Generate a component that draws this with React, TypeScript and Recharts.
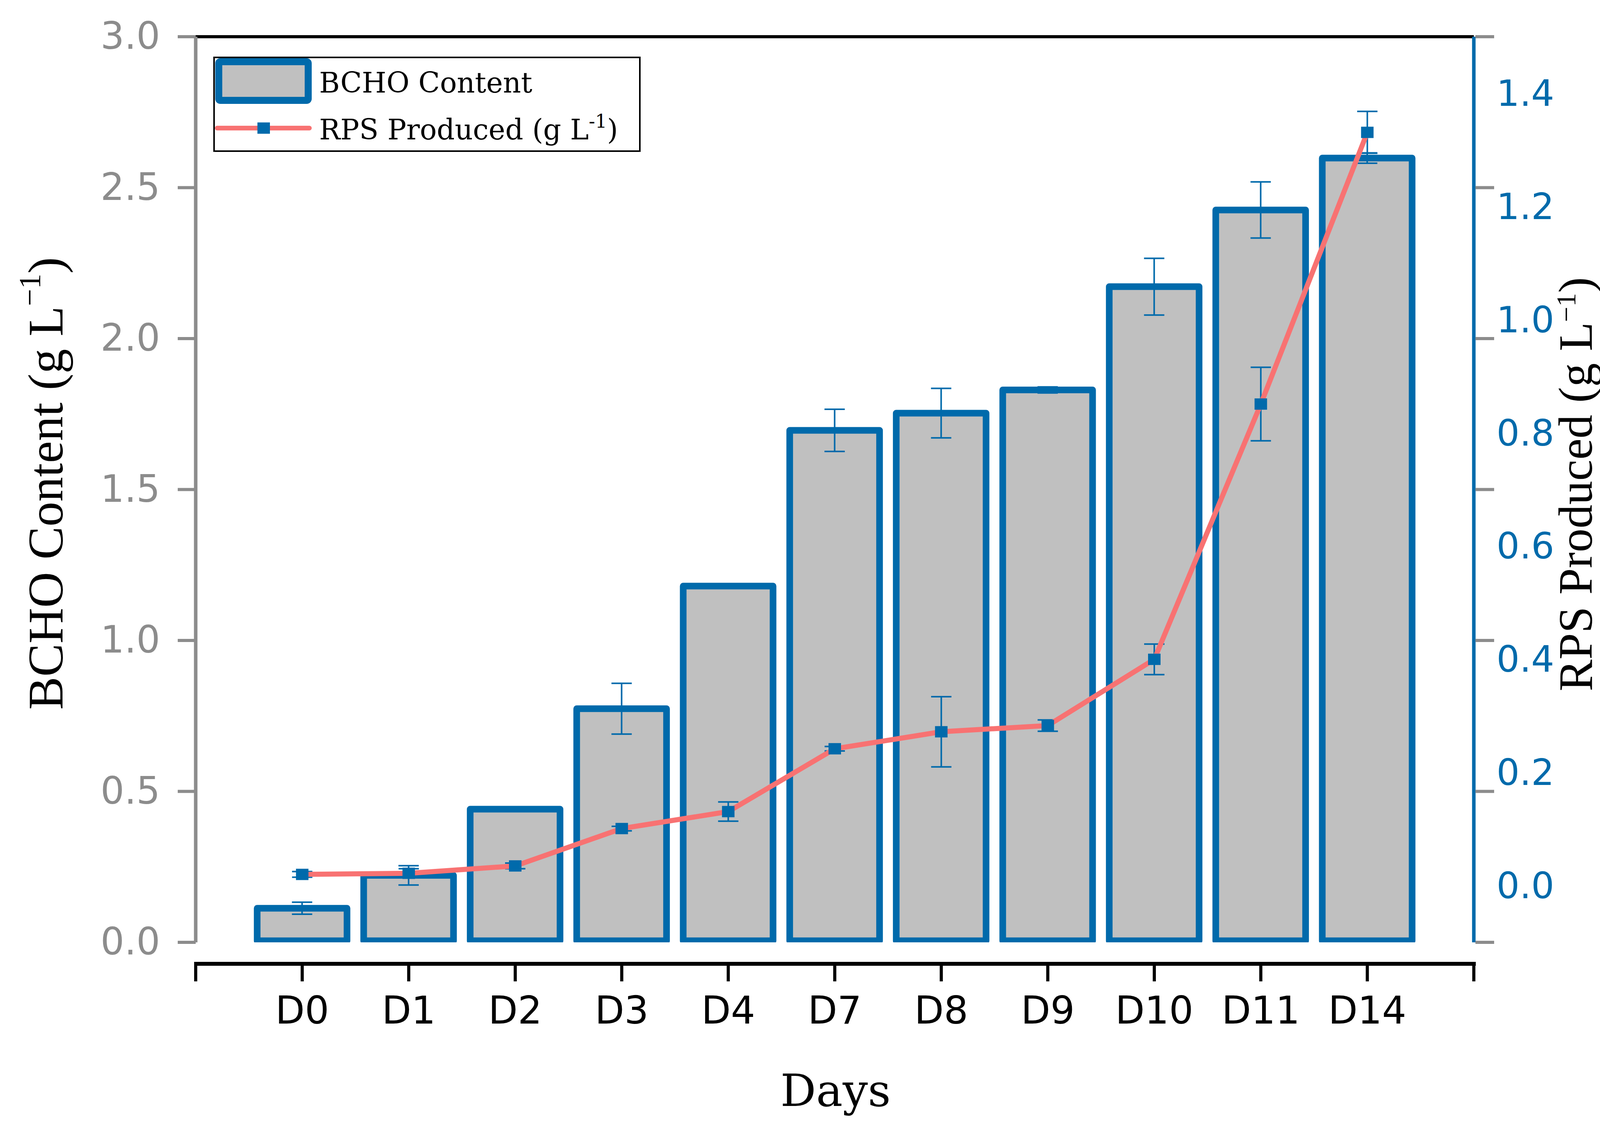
import React from 'react';
import {
  ComposedChart,
  Bar,
  Line,
  XAxis,
  YAxis,
  ErrorBar,
  ReferenceLine,
  Legend,
} from 'recharts';

// ---------- data ----------
const days = ['D0', 'D1', 'D2', 'D3', 'D4', 'D7', 'D8', 'D9', 'D10', 'D11', 'D14'];
const bchoContent = [0.113, 0.222, 0.441, 0.774, 1.18, 1.696, 1.753, 1.83, 2.172, 2.426, 2.598];
const bchoError = [0.02, 0.032, 0.004, 0.084, 0.004, 0.07, 0.082, 0.01, 0.094, 0.093, 0.017];
const rpsProduced = [0.02, 0.022, 0.035, 0.101, 0.131, 0.242, 0.272, 0.283, 0.4, 0.851, 1.331];
const rpsError = [0.005, 0.008, 0.005, 0.004, 0.017, 0.004, 0.062, 0.01, 0.027, 0.065, 0.037];
const leftTicks = [0, 0.5, 1, 1.5, 2, 2.5, 3];
const rightTicks = [0, 0.2, 0.4, 0.6, 0.8, 1.0, 1.2, 1.4];
const xTicks = [-1, 0, 1, 2, 3, 4, 5, 6, 7, 8, 9, 10, 11];

const data = days.map((d, i) => ({
  idx: i,
  day: d,
  bcho: bchoContent[i],
  bchoErr: bchoError[i],
  rps: rpsProduced[i],
  rpsErr: rpsError[i],
}));

// ---------- layout / style ----------
const W = 4240;
const H = 2891;
const PLOT_TOP = 94;
const PLOT_LEFT = 501;
const PLOT_RIGHT = 3773;
const PLOT_BOTTOM = 2413;

const BLUE = '#006AAB';
const GRAY = '#8C8C8C';
const FILL = '#C0C0C0';
const SALMON = '#F87272';
const SANS = 'DejaVu Sans';
const SERIF_T = 'Liberation Serif';
const SERIF_W = 'DejaVu Serif';

const LeftTick = (props: any) => {
  const { x, y, payload } = props;
  return (
    <g>
      <text x={x} y={y + 31} textAnchor="end" fontFamily={SANS} fontSize={96} fill={GRAY}>
        {Number(payload.value).toFixed(1)}
      </text>
      <line x1={PLOT_RIGHT + 4} x2={PLOT_RIGHT + 52} y1={y} y2={y} stroke={GRAY} strokeWidth={8} />
    </g>
  );
};

const RightTick = (props: any) => {
  const { x, y, payload } = props;
  return (
    <text x={x} y={y + 32} textAnchor="start" fontFamily={SANS} fontSize={93} fill={BLUE}>
      {Number(payload.value).toFixed(1)}
    </text>
  );
};

const XTick = (props: any) => {
  const { x, y, payload } = props;
  const v = Number(payload.value);
  const label = days[v] ?? '';
  return (
    <g>
      {v === -1 && (
        <line x1={x - 4} x2={PLOT_RIGHT + 5} y1={y + 55} y2={y + 55} stroke="#000" strokeWidth={10} />
      )}
      <line x1={x} x2={x} y1={y + 55} y2={y + 100} stroke="#000" strokeWidth={8} />
      {label && (
        <text x={x} y={y + 208} textAnchor="middle" fontFamily={SANS} fontSize={98} fill="#000">
          {label}
        </text>
      )}
    </g>
  );
};

const BarShape = (props: any) => {
  const { x, y, width, height } = props;
  if (x == null || y == null) return null;
  return (
    <rect
      x={x}
      y={y}
      width={width}
      height={Math.max(0, height - 4)}
      fill={FILL}
      stroke={BLUE}
      strokeWidth={17}
      strokeLinejoin="round"
    />
  );
};

const SquareDot = (props: any) => {
  const { cx, cy, index } = props;
  if (cx == null || cy == null) return null;
  return <rect key={`dot-${index}`} x={cx - 16} y={cy - 14.5} width={32} height={29} fill={BLUE} />;
};

const LeftTitle = () => (
  <text
    x={160}
    y={1238}
    transform="rotate(-90, 160, 1238)"
    textAnchor="middle"
    fontFamily={SERIF_T}
    fontSize={127}
    fill="#000"
  >
    BCHO Content (g L
    <tspan fontSize={78} dy={-58}>
      {'\u22121'}
    </tspan>
    <tspan dy={58}>)</tspan>
  </text>
);

const RightTitle = () => (
  <text
    x={4075}
    y={1240}
    transform="rotate(-90, 4075, 1240)"
    textAnchor="middle"
    fontFamily={SERIF_T}
    fontSize={122}
    fill="#000"
  >
    RPS Produced (g L
    <tspan fontSize={70} dy={-42}>
      {'\u22121'}
    </tspan>
    <tspan dy={42}>)</tspan>
  </text>
);

const XTitle = () => (
  <text x={2139} y={2832} textAnchor="middle" fontFamily={SERIF_W} fontSize={114} fill="#000">
    Days
  </text>
);

const LegendBox = () => (
  <svg width={1094} height={244} style={{ display: 'block' }}>
    <rect x={2} y={2} width={1090} height={240} fill="#fff" stroke="#000" strokeWidth={4} />
    <rect x={14} y={13} width={229} height={99} rx={4} fill={FILL} stroke={BLUE} strokeWidth={18} />
    <text x={271} y={92} fontFamily={SERIF_W} fontSize={72} fill="#000">
      BCHO Content
    </text>
    <line x1={10} x2={246} y1={183} y2={183} stroke={SALMON} strokeWidth={12} strokeLinecap="round" />
    <rect x={129 - 16} y={183 - 14.5} width={32} height={29} fill={BLUE} />
    <text x={271} y={212} fontFamily={SERIF_W} fontSize={72} fill="#000">
      RPS Produced (g L
      <tspan fontSize={48} dy={-30}>
        -1
      </tspan>
      <tspan dy={30}>)</tspan>
    </text>
  </svg>
);

export default function App() {
  return (
    <div style={{ position: 'absolute', left: 0, top: 0, width: W, height: H, background: '#fff' }}>
      <ComposedChart
        width={W}
        height={H}
        data={data}
        margin={{ top: PLOT_TOP, right: 0, bottom: 0, left: 0 }}
      >
        <XAxis
          dataKey="idx"
          type="number"
          domain={[-1, 11]}
          ticks={xTicks}
          interval={0}
          height={H - PLOT_BOTTOM}
          axisLine={false}
          tickLine={false}
          tickSize={0}
          tickMargin={0}
          tick={<XTick />}
          label={<XTitle />}
        />
        <YAxis
          yAxisId="left"
          orientation="left"
          width={PLOT_LEFT}
          domain={[0, 3]}
          allowDataOverflow
          ticks={leftTicks}
          interval={0}
          axisLine={{ stroke: GRAY, strokeWidth: 9 }}
          tickLine={{ stroke: GRAY, strokeWidth: 8 }}
          tickSize={46}
          tickMargin={45}
          tick={<LeftTick />}
          label={<LeftTitle />}
        />
        <YAxis
          yAxisId="right"
          orientation="right"
          width={W - PLOT_RIGHT}
          domain={[-0.1, 1.5]}
          allowDataOverflow
          ticks={rightTicks}
          interval={0}
          axisLine={{ stroke: BLUE, strokeWidth: 9 }}
          tickLine={false}
          tickSize={0}
          tickMargin={58}
          tick={<RightTick />}
          label={<RightTitle />}
        />
        <ReferenceLine yAxisId="left" y={3} stroke="#000" strokeWidth={8} />
        <Bar
          yAxisId="left"
          dataKey="bcho"
          barSize={230}
          fill={FILL}
          stroke={BLUE}
          strokeWidth={17}
          shape={<BarShape />}
          isAnimationActive={false}
        >
          <ErrorBar dataKey="bchoErr" direction="y" width={26} strokeWidth={4} stroke={BLUE} />
        </Bar>
        <Line
          yAxisId="right"
          dataKey="rps"
          type="linear"
          stroke={SALMON}
          strokeWidth={13}
          dot={<SquareDot />}
          activeDot={false}
          isAnimationActive={false}
        >
          <ErrorBar dataKey="rpsErr" direction="y" width={26} strokeWidth={4} stroke={BLUE} />
        </Line>
        <Legend
          layout="horizontal"
          verticalAlign="middle"
          align="center"
          wrapperStyle={{ left: 546, top: 145, width: 1094, height: 244 }}
          content={<LegendBox />}
        />
      </ComposedChart>
    </div>
  );
}
